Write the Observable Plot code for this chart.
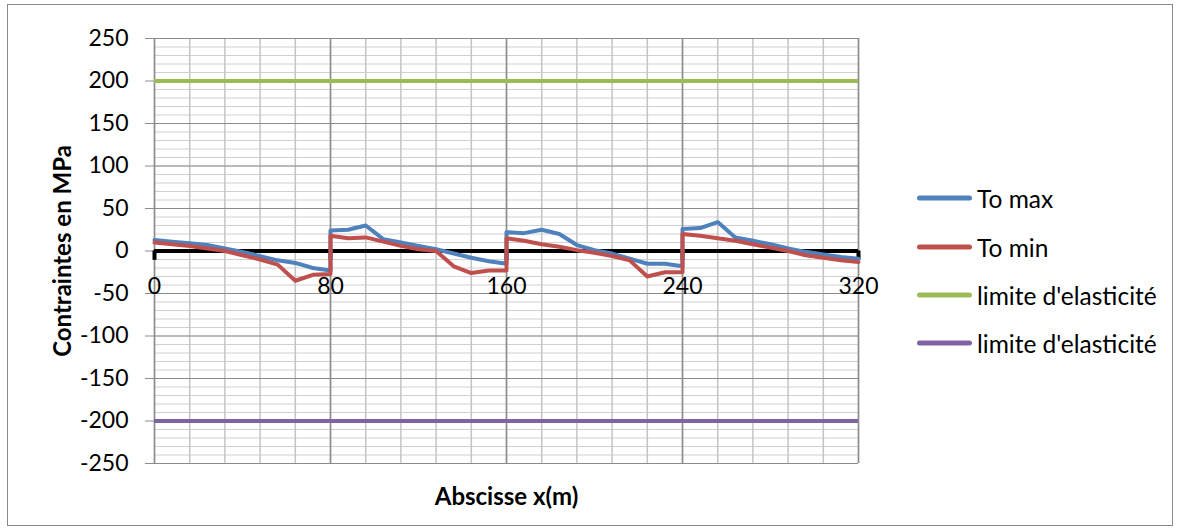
<!DOCTYPE html>
<html><head><meta charset="utf-8">
<script src="https://cdn.jsdelivr.net/npm/d3@7"></script>
<script src="https://cdn.jsdelivr.net/npm/@observablehq/plot@0.6"></script>
<style>
body{margin:0;background:#fff;font-family:Lato,sans-serif}
#wrap{position:relative;width:1182px;height:531px;overflow:hidden}
#frame{position:absolute;left:7px;top:4px;width:1166px;height:522px;border:1.5px solid #898989;box-sizing:border-box;pointer-events:none}
#legend{position:absolute;left:917px;top:0}
.item{position:absolute;left:0;display:flex;align-items:center;white-space:nowrap;font-size:24.5px;color:#000;transform:translateY(-50%)}
.sw{width:55px;height:5px;border-radius:3px;margin-right:5px}
[aria-label="y-axis label"],[aria-label="x-axis label"]{font-weight:bold;font-size:24px}
</style></head><body><div id="wrap"><div id="frame"></div><div id="legend"></div></div>
<script>
// Abscisse x (m) — each span starts again at its support, hence the repeated x values
const abscisse = [0,8,16,24,32,40,48,56,64,72,80,
  80,88,96,104,112,120,128,136,144,152,160,
  160,168,176,184,192,200,208,216,224,232,240,
  240,248,256,264,272,280,288,296,304,312,320];
const toMax = [13,11,9,7,3,-1,-6,-11,-14,-20,-23,
  24,25,30,14,10,6,2,-3,-8,-12,-15,
  22,21,25,20,7,1,-3,-9,-15,-15,-18,
  26,27,34,16,12,8,3,-1,-4,-7,-9];
const toMin = [10,8,6,3,0,-5,-10,-16,-35,-28,-27,
  18,15,16,11,6,2,0,-18,-26,-23,-23,
  15,12,8,5,1,-2,-6,-11,-30,-25,-25,
  20,18,15,12,8,4,0,-5,-8,-11,-13];
const limiteSup = 200;
const limiteInf = -200;
const xTicks = [0,80,160,240,320];
const yTicks = [-250,-200,-150,-100,-50,0,50,100,150,200,250];
const seriesNames = ["To max","To min","limite d'elasticité","limite d'elasticité"];
const seriesColors = ["#4f81bd","#c0504d","#9bbb59","#8064a2"];

const minorY = d3.range(-250, 251, 10);
const minorX = d3.range(0, 321, 16);
const rows = abscisse.map((x, i) => ({x, max: toMax[i], min: toMin[i]}));

const chart = Plot.plot({
  width: 1182, height: 531,
  marginLeft: 154, marginRight: 324, marginTop: 38, marginBottom: 68,
  style: {fontFamily: "Lato, sans-serif", fontSize: "23px", color: "#000", background: "transparent"},
  x: {domain: [0, 320]},
  y: {domain: [-250, 250]},
  marks: [
    Plot.ruleY(minorY, {stroke: "#d0d0d0", strokeWidth: 1}),
    Plot.ruleX(minorX, {stroke: "#c4c4c4", strokeWidth: 1.5}),
    Plot.ruleY(yTicks, {stroke: "#8c8c8c", strokeWidth: 1}),
    Plot.ruleX(xTicks, {stroke: "#8c8c8c", strokeWidth: 1.5}),
    Plot.axisY({ticks: yTicks, tickSize: 9, tickPadding: 17, stroke: "#8c8c8c", fill: "#000",
      tickFormat: d => String(d), label: "Contraintes en MPa", labelAnchor: "center",
      labelArrow: "none", labelOffset: 101, fontSize: 23}),
    Plot.axisX({ticks: [], tickSize: 0, label: "Abscisse x(m)", labelAnchor: "center",
      labelArrow: "none", labelOffset: 41, fontSize: 23, fill: "#000"}),
    Plot.ruleY([0], {stroke: "#000", strokeWidth: 4}),
    Plot.ruleX(xTicks, {y1: 0, y2: -11, stroke: "#000", strokeWidth: 4}),
    Plot.text(xTicks, {x: d => d, y: () => 0, dy: 36, text: d => String(d), fontSize: 23, fill: "#000"}),
    Plot.line(rows, {x: "x", y: "max", stroke: seriesColors[0], strokeWidth: 4, strokeLinejoin: "round"}),
    Plot.line(rows, {x: "x", y: "min", stroke: seriesColors[1], strokeWidth: 4, strokeLinejoin: "round"}),
    Plot.ruleY([limiteSup], {stroke: seriesColors[2], strokeWidth: 4}),
    Plot.ruleY([limiteInf], {stroke: seriesColors[3], strokeWidth: 4})
  ]
});
document.getElementById("wrap").prepend(chart);

const legendY = [198, 247, 295, 343];
const legend = document.getElementById("legend");
seriesNames.forEach((name, i) => {
  const item = document.createElement("div");
  item.className = "item";
  item.style.top = legendY[i] + "px";
  const sw = document.createElement("span");
  sw.className = "sw";
  sw.style.background = seriesColors[i];
  const t = document.createElement("span");
  t.textContent = name;
  item.append(sw, t);
  legend.append(item);
});
</script>
</body></html>
